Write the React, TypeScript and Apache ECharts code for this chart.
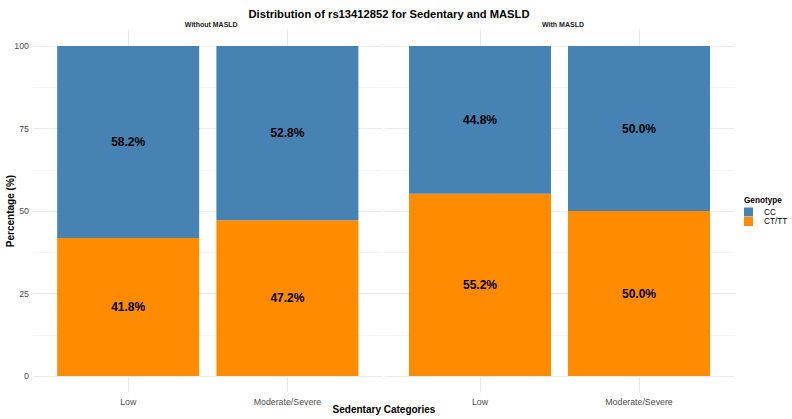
import React, { useEffect, useRef } from "react";
import * as echarts from "echarts";

// Sedentary categories on each facet's x axis
const categories = ["Low", "Moderate/Severe"];
// Facet (panel) titles
const panels = ["Without MASLD", "With MASLD"];
// Genotype shares (%) per panel, ordered like categories
const ccShare = [
  [58.2, 52.8],
  [44.8, 50.0],
];
const ctttShare = [
  [41.8, 47.2],
  [55.2, 50.0],
];
const yTicks = [0, 25, 50, 75, 100];
const yMinor = [12.5, 37.5, 62.5, 87.5];

const FONT = "'Liberation Sans', Arial, sans-serif";
const CC_COLOR = "#4682B4";
const CT_COLOR = "#FF8C00";

export default function App() {
  const ref = useRef<HTMLDivElement>(null);

  useEffect(() => {
    if (!ref.current) return;
    const chart = echarts.init(ref.current, null, { renderer: "svg" });

    const TOP = 29.5;
    const HEIGHT = 363;
    // full panel areas (grid lines, y labels)
    const panelGrids = [
      { left: 33, top: TOP, width: 349.5, height: HEIGHT },
      { left: 384.6, top: TOP, width: 349.8, height: HEIGHT },
    ];
    // inner areas holding the category bands (panel minus discrete expansion)
    const barGrids = [
      { left: 48.6, top: TOP, width: 318.4, height: HEIGHT },
      { left: 400.5, top: TOP, width: 318, height: HEIGHT },
    ];
    const grids = [...panelGrids, ...barGrids];

    const xAxes: any[] = [];
    const yAxes: any[] = [];
    panelGrids.forEach((_, i) => {
      xAxes.push({
        type: "value",
        gridIndex: i,
        min: 0.4,
        max: 2.6,
        axisLine: { show: false },
        axisTick: { show: false },
        splitLine: { show: false },
        axisLabel: { show: false },
      });
      yAxes.push({
        type: "value",
        gridIndex: i,
        min: -5,
        max: 105,
        axisLine: { show: false },
        axisTick: { show: false },
        splitLine: { show: false },
        axisLabel: {
          show: i === 0,
          customValues: yTicks,
          color: "#4d4d4d",
          fontSize: 8.8,
          fontFamily: FONT,
          margin: 4,
        },
      });
    });
    barGrids.forEach((_, i) => {
      xAxes.push({
        type: "category",
        gridIndex: i + 2,
        data: categories,
        boundaryGap: true,
        axisLine: { show: false },
        axisTick: { show: false },
        splitLine: { show: false },
        axisLabel: {
          color: "#4d4d4d",
          fontSize: 8.8,
          fontFamily: FONT,
          margin: 5,
          interval: 0,
        },
      });
      yAxes.push({
        type: "value",
        gridIndex: i + 2,
        min: -5,
        max: 105,
        axisLine: { show: false },
        axisTick: { show: false },
        splitLine: { show: false },
        axisLabel: { show: false },
      });
    });

    const barLabel = {
      show: true,
      position: "inside",
      formatter: (p: any) => `${Number(p.value).toFixed(1)}%`,
      color: "#000",
      fontWeight: "bold",
      fontSize: 12,
      fontFamily: FONT,
    };

    const series: any[] = [];
    panelGrids.forEach((_, i) => {
      // panel grid lines (minor, major and category lines)
      series.push({
        type: "line",
        xAxisIndex: i,
        yAxisIndex: i,
        data: [],
        z: 0,
        silent: true,
        markLine: {
          silent: true,
          symbol: ["none", "none"],
          label: { show: false },
          z: 0,
          data: [
            ...yMinor.map((y) => ({ yAxis: y, lineStyle: { color: "#f4f4f4", width: 0.8, type: "solid" } })),
            ...yTicks.map((y) => ({ yAxis: y, lineStyle: { color: "#ebebeb", width: 1, type: "solid" } })),
            ...[1, 2].map((x) => ({ xAxis: x, lineStyle: { color: "#ebebeb", width: 1, type: "solid" } })),
          ],
        },
      });
    });
    barGrids.forEach((_, i) => {
      series.push({
        name: "CT/TT",
        type: "bar",
        xAxisIndex: i + 2,
        yAxisIndex: i + 2,
        stack: `panel${i}`,
        barWidth: 142,
        z: 2,
        itemStyle: { color: CT_COLOR },
        label: barLabel,
        data: ctttShare[i],
      });
      series.push({
        name: "CC",
        type: "bar",
        xAxisIndex: i + 2,
        yAxisIndex: i + 2,
        stack: `panel${i}`,
        barWidth: 142,
        z: 2,
        itemStyle: { color: CC_COLOR },
        label: barLabel,
        data: ccShare[i],
      });
    });

    chart.setOption({
      animation: false,
      backgroundColor: "#ffffff",
      textStyle: { fontFamily: FONT },
      title: {
        text: "Distribution of rs13412852 for Sedentary and MASLD",
        left: 384,
        top: 3,
        textAlign: "center",
        textStyle: { fontSize: 11.2, fontWeight: "bold", color: "#000", fontFamily: FONT },
      },
      legend: {
        data: ["CC", "CT/TT"],
        orient: "vertical",
        left: 744,
        top: 207.5,
        padding: 0,
        itemWidth: 9,
        itemHeight: 9,
        itemGap: 0.5,
        icon: "rect",
        selectedMode: false,
        textStyle: { fontSize: 8.2, color: "#000", fontFamily: FONT, padding: [0, 0, 0, 6] },
      },
      grid: grids,
      xAxis: xAxes,
      yAxis: yAxes,
      series,
      graphic: [
        ...panels.map((p, i) => ({
          type: "text",
          x: panelGrids[i].left + panelGrids[i].width / 2 + 3.5,
          y: 24,
          style: {
            text: p,
            align: "center",
            verticalAlign: "middle",
            fontSize: 7,
            fontWeight: "bold",
            fill: "#1a1a1a",
            fontFamily: FONT,
          },
        })),
        {
          type: "text",
          x: 384,
          y: 409,
          style: {
            text: "Sedentary Categories",
            align: "center",
            verticalAlign: "middle",
            fontSize: 10,
            fontWeight: "bold",
            fill: "#000",
            fontFamily: FONT,
          },
        },
        {
          type: "text",
          x: 10,
          y: 211,
          rotation: Math.PI / 2,
          style: {
            text: "Percentage (%)",
            align: "center",
            verticalAlign: "middle",
            fontSize: 10,
            fontWeight: "bold",
            fill: "#000",
            fontFamily: FONT,
          },
        },
        {
          type: "text",
          x: 744,
          y: 200,
          style: {
            text: "Genotype",
            align: "left",
            verticalAlign: "middle",
            fontSize: 8.2,
            fontWeight: "bold",
            fill: "#000",
            fontFamily: FONT,
          },
        },
      ],
    });

    return () => chart.dispose();
  }, []);

  return (
    <div
      ref={ref}
      style={{ position: "fixed", left: 0, top: 0, width: 792, height: 419 }}
    />
  );
}
